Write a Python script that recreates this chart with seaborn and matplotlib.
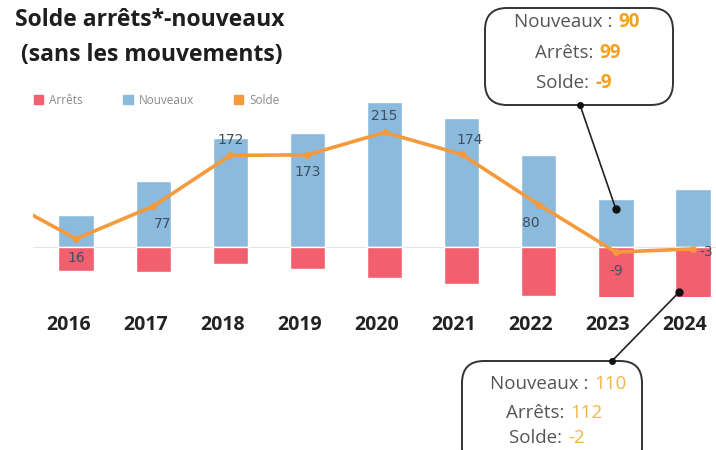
import matplotlib
matplotlib.use("Agg")
import matplotlib.pyplot as plt
import matplotlib.transforms as mtransforms
import seaborn as sns
import pandas as pd
from matplotlib.patches import Patch, FancyBboxPatch

# Data
years = ["2016", "2017", "2018", "2019", "2020", "2021", "2022", "2023", "2024"]
nouveaux = [60, 124, 204, 213, 272, 242, 172, 90, 110]
arrets = [44, 47, 32, 40, 57, 68, 92, 99, 112]
solde = [16, 77, 172, 173, 215, 174, 80, -9, -3]
# the line enters from the left edge (previous year, outside the view)
solde_prev = 94

RED = "#f2606f"
BLUE = "#8cbadc"
ORANGE = "#f59a3c"

sns.set_theme(style="white")
plt.rcParams["font.family"] = ["Open Sans", "DejaVu Sans"]

fig = plt.figure(figsize=(7.16, 4.5), dpi=100)
W, H = 716, 450


def px(x0, y0, w, h):
    return [x0 / W, 1 - (y0 + h) / H, w / W, h / H]


ax = fig.add_axes(px(33, 95, 683, 202))

df = pd.DataFrame({"year": years, "Nouveaux": nouveaux,
                   "Arrets": [-a for a in arrets]})
sns.barplot(data=df, x="year", y="Nouveaux", order=years, color=BLUE,
            width=0.46, saturation=1, ax=ax)
sns.barplot(data=df, x="year", y="Arrets", order=years, color=RED,
            width=0.46, saturation=1, ax=ax)

line_df = pd.DataFrame({"pos": list(range(-1, len(years))),
                        "solde": [solde_prev] + solde})
sns.lineplot(data=line_df, x="pos", y="solde", color=ORANGE, lw=2.6,
             marker="o", markersize=5, markeredgewidth=0, ax=ax)

ax.axhline(0, color="#e6e6e6", lw=0.8, zorder=0)
ax.set_xlim(-0.56, 8.3)
ax.set_ylim(-93, 285)
ax.set_xlabel("")
ax.set_ylabel("")
ax.set_yticks([])
ax.set_xticks(range(len(years)))
ax.set_xticklabels(years, fontsize=14, fontweight="bold", color="#222222")
ax.tick_params(axis="x", length=0, pad=13)
# year labels sit slightly left of the bar centres
shift = mtransforms.ScaledTranslation(-8 / 100, 0, fig.dpi_scale_trans)
for lbl in ax.get_xticklabels():
    lbl.set_transform(lbl.get_transform() + shift)
sns.despine(ax=ax, left=True, bottom=True)

# value labels of the balance line (offsets in pixels)
offsets = [(0, -19), (9, -18), (0, 15), (0, -17), (0, 16), (8, 14),
           (-8, -18), (0, -19), (13, -3)]
for i, (v, (dx, dy)) in enumerate(zip(solde, offsets)):
    ax.annotate(str(v), (i, v), xytext=(dx, dy), textcoords="offset pixels",
                ha="center", va="center", fontsize=10, color="#3e4e60",
                family=["DejaVu Sans"])

# legend
handles = [Patch(color=RED, label="Arrêts"),
           Patch(color=BLUE, label="Nouveaux"),
           Patch(color=ORANGE, label="Solde")]
fig.legend(handles=handles, loc="center left", bbox_to_anchor=(34 / W, 1 - 100 / H),
           ncol=3, frameon=False, fontsize=8.5, labelcolor="#8a8a8a",
           handlelength=0.8, handleheight=0.8, handletextpad=0.5,
           columnspacing=3.4, borderaxespad=0, borderpad=0)

# title
fig.text(150 / W, 1 - 20 / H, "Solde arrêts*-nouveaux", ha="center", va="center",
         fontsize=16.5, fontweight="bold", color="#1e1e1e")
fig.text(152 / W, 1 - 55 / H, "(sans les mouvements)", ha="center", va="center",
         fontsize=16.5, fontweight="bold", color="#1e1e1e")

# overlay for the callouts, in pixel units
ov = fig.add_axes([0, 0, 1, 1])
ov.set_xlim(0, W)
ov.set_ylim(H, 0)
ov.axis("off")

ov.add_patch(FancyBboxPatch((485, 8), 188, 97,
                            boxstyle="round,pad=0,rounding_size=22",
                            fc="white", ec="#333333", lw=1.4))
ov.add_patch(FancyBboxPatch((462, 361), 180, 110,
                            boxstyle="round,pad=0,rounding_size=22",
                            fc="white", ec="#333333", lw=1.4, clip_on=False))

top_lines = [("Nouveaux : ", str(nouveaux[7]), 617, 22),
             ("Arrêts: ", str(arrets[7]), 598, 53),
             ("Solde: ", str(solde[7]), 594, 83)]
for lab, val, xs, y in top_lines:
    ov.text(xs, y, lab, ha="right", va="center", fontsize=13.5, color="#555555")
    ov.text(xs + 1, y, val, ha="left", va="center", fontsize=13.5,
            color="#f5a020", fontweight="bold")

bot_lines = [("Nouveaux : ", str(nouveaux[8]), 593, 384),
             ("Arrêts: ", str(arrets[8]), 569, 413),
             ("Solde: ", str(nouveaux[8] - arrets[8]), 567, 438)]
for lab, val, xs, y in bot_lines:
    ov.text(xs, y, lab, ha="right", va="center", fontsize=13.5, color="#555555")
    ov.text(xs + 1, y, val, ha="left", va="center", fontsize=13.5,
            color="#f5b545")

# connectors from the boxes to the bars
tip_top = (7, nouveaux[7] * 0.8)
tip_bot = (7.82, -arrets[8] * 0.75)
for tip, start in [(tip_top, (580, 105)), (tip_bot, (612, 361))]:
    ax.annotate("", xy=tip, xycoords="data", xytext=start,
                textcoords=ov.transData,
                arrowprops=dict(arrowstyle="-", color="#222222", lw=1.2,
                                shrinkA=0, shrinkB=0), annotation_clip=False)
    ax.plot(*tip, "o", color="#111111", markersize=5, zorder=5, clip_on=False)
    ov.plot(*start, "o", color="#111111", markersize=4, zorder=5)

fig.savefig("out.png", dpi=100)
